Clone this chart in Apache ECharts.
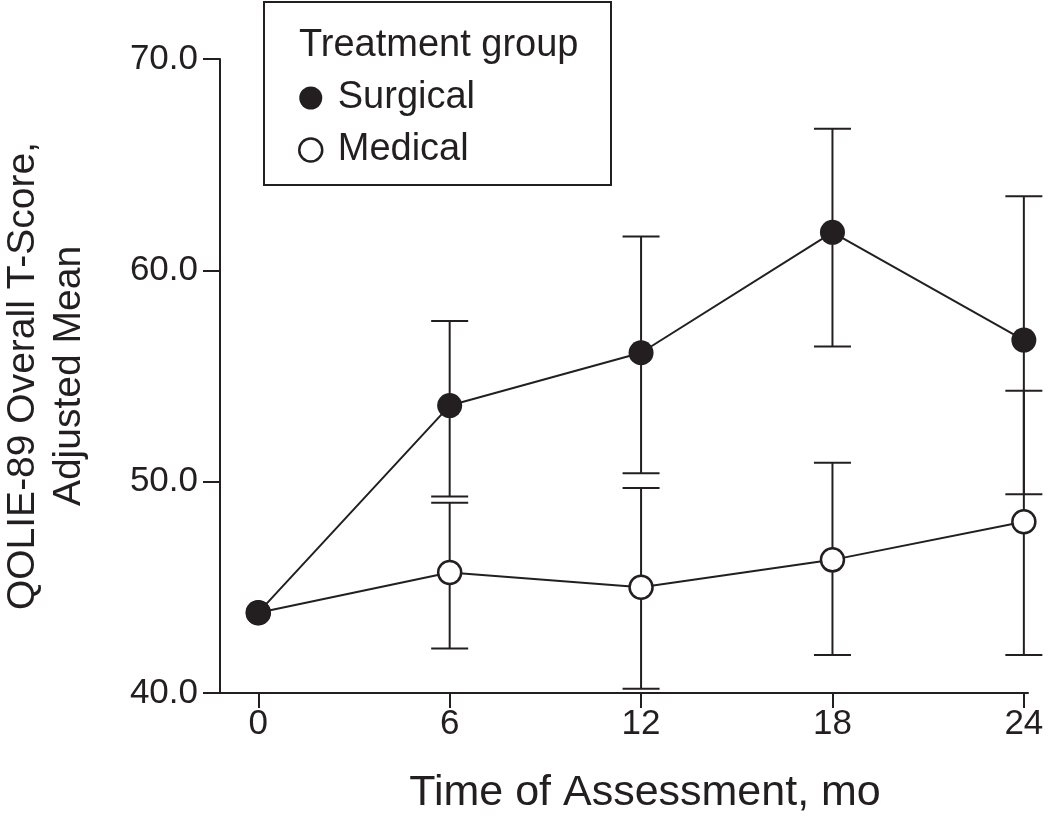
<!DOCTYPE html>
<html>
<head>
<meta charset="utf-8">
<script src="https://cdn.jsdelivr.net/npm/echarts@6/dist/echarts.min.js"></script>
<style>
html,body{margin:0;padding:0;background:#fff;}
#chart{width:1050px;height:816px;}
</style>
</head>
<body>
<div id="chart"></div>
<script>
// ---- data ----
const months = [0, 6, 12, 18, 24];
const xTickValues = [0, 6, 12, 18, 24];
const yTickValues = [40, 50, 60, 70];

const surgicalMean  = [43.8, 53.6, 56.1, 61.8, 56.7];
const surgicalUpper = [null, 57.6, 61.6, 66.7, 63.5];
const surgicalLower = [null, 49.3, 50.4, 56.4, 49.4];

const medicalMean  = [43.8, 45.7, 45.0, 46.3, 48.1];
const medicalUpper = [null, 49.0, 49.7, 50.9, 54.3];
const medicalLower = [null, 42.1, 40.2, 41.8, 41.8];

const legendTitle = 'Treatment group';
const seriesNames = ['Surgical', 'Medical'];
const xName = 'Time of Assessment, mo';
const yName = 'QOLIE-89 Overall T-Score,\nAdjusted Mean';

// ---- build ----
const INK = '#231f20';
const FONT = '"Liberation Sans", Arial, sans-serif';

function pairs(vals) { return months.map((m, i) => [m, vals[i]]); }
function bars(lo, hi) {
  const out = [];
  months.forEach((m, i) => { if (lo[i] != null && hi[i] != null) out.push([m, lo[i], hi[i]]); });
  return out;
}
function errorRender(params, api) {
  const x = api.value(0);
  const pLo = api.coord([x, api.value(1)]);
  const pHi = api.coord([x, api.value(2)]);
  const hw = 18.5;
  const st = { stroke: INK, lineWidth: 2 };
  return {
    type: 'group',
    children: [
      { type: 'line', shape: { x1: pLo[0], y1: pLo[1], x2: pHi[0], y2: pHi[1] }, style: st },
      { type: 'line', shape: { x1: pLo[0] - hw, y1: pLo[1], x2: pLo[0] + hw, y2: pLo[1] }, style: st },
      { type: 'line', shape: { x1: pHi[0] - hw, y1: pHi[1], x2: pHi[0] + hw, y2: pHi[1] }, style: st }
    ]
  };
}

const chart = echarts.init(document.getElementById('chart'), null, { renderer: 'canvas' });
chart.setOption({
  animation: false,
  backgroundColor: '#fff',
  textStyle: { fontFamily: FONT, color: INK },
  grid: { left: 220, right: 22, top: 59, bottom: 123, containLabel: false, outerBoundsMode: 'none' },
  legend: {
    orient: 'vertical',
    left: 298,
    top: 79,
    itemWidth: 44,
    itemHeight: 23,
    itemGap: 14,
    padding: 0,
    selectedMode: false,
    textStyle: { fontSize: 38, color: INK, fontFamily: FONT, lineHeight: 36 },
    data: [
      { name: seriesNames[0], icon: 'circle', itemStyle: { color: INK, borderWidth: 0 } },
      { name: seriesNames[1], icon: 'circle', itemStyle: { color: '#fff', borderColor: INK, borderWidth: 2.5 } }
    ]
  },
  graphic: [
    { type: 'rect', shape: { x: 264, y: 2, width: 347, height: 183 },
      style: { fill: 'none', stroke: INK, lineWidth: 2 }, z: 10 },
    { type: 'text', x: 299, y: 46,
      style: { text: legendTitle, font: '38px ' + FONT, fill: INK, textVerticalAlign: 'middle' }, z: 10 }
  ],
  xAxis: {
    type: 'value',
    min: -1.2,
    max: 24.13,
    name: xName,
    nameLocation: 'middle',
    nameGap: 79,
    nameTextStyle: { fontSize: 43, color: INK, fontFamily: FONT, padding: [0, 0, 0, 42] },
    axisLine: { show: true, onZero: false, lineStyle: { color: INK, width: 2 } },
    axisTick: { show: true, length: 15, lineStyle: { color: INK, width: 2 }, customValues: xTickValues },
    axisLabel: { fontSize: 35, color: INK, margin: 14, customValues: xTickValues, fontFamily: FONT },
    splitLine: { show: false }
  },
  yAxis: {
    type: 'value',
    min: 40,
    max: 70,
    interval: 10,
    name: yName,
    nameLocation: 'middle',
    nameRotate: 90,
    nameGap: 128,
    nameTextStyle: { fontSize: 39, color: INK, fontFamily: FONT, lineHeight: 46, align: 'center' },
    axisLine: { show: true, onZero: false, lineStyle: { color: INK, width: 2 } },
    axisTick: { show: true, length: 17, lineStyle: { color: INK, width: 2 }, customValues: yTickValues },
    axisLabel: { fontSize: 35, color: INK, margin: 22, fontFamily: FONT,
      customValues: yTickValues, formatter: v => v.toFixed(1) },
    splitLine: { show: false }
  },
  series: [
    { type: 'custom', name: 'medErr', renderItem: errorRender, data: bars(medicalLower, medicalUpper), z: 1, silent: true },
    { type: 'custom', name: 'surgErr', renderItem: errorRender, data: bars(surgicalLower, surgicalUpper), z: 1, silent: true },
    {
      type: 'line', name: seriesNames[1], data: pairs(medicalMean), z: 3,
      symbol: 'circle', symbolSize: 23, showAllSymbol: true,
      lineStyle: { color: INK, width: 2 },
      itemStyle: { color: '#fff', borderColor: INK, borderWidth: 2.5 }
    },
    {
      type: 'line', name: seriesNames[0], data: pairs(surgicalMean), z: 4,
      symbol: 'circle', symbolSize: 25, showAllSymbol: true,
      lineStyle: { color: INK, width: 2 },
      itemStyle: { color: INK, borderWidth: 0 }
    }
  ]
});
</script>
</body>
</html>
